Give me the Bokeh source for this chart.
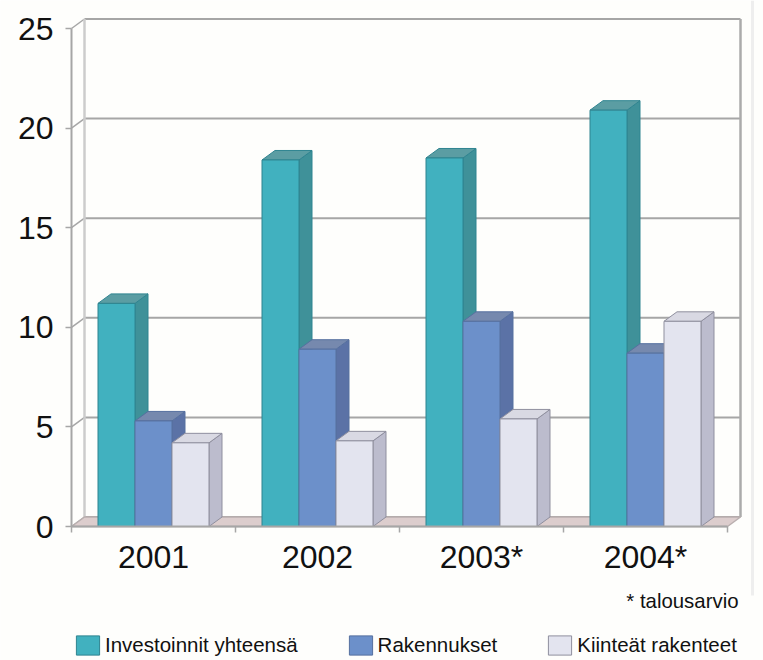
from bokeh.plotting import figure
from bokeh.embed import file_html
from bokeh.resources import INLINE
from bokeh.models import FixedTicker, Legend, LegendItem, Label

categories = ["2001", "2002", "2003*", "2004*"]
series_names = ["Investoinnit yhteensä", "Rakennukset", "Kiinteät rakenteet"]
investoinnit = [11.2, 18.4, 18.5, 20.9]
rakennukset = [5.3, 8.9, 10.3, 8.7]
kiinteat = [4.2, 4.3, 5.4, 10.3]
y_ticks = [0, 5, 10, 15, 20, 25]
footnote = "* talousarvio"

W, H = 763, 660
PX = 164.0      # pixels per category
PY = 19.92      # pixels per value unit
x0 = -71 / PX - 0.5
x1 = x0 + W / PX
y1 = 526 / PY
y0 = y1 - H / PY
DX = 13 / PX    # 3D depth
DY = 9.5 / PY
BW = 37 / PX
X_END = 3.5

p = figure(width=W, height=H, x_range=(x0, x1), y_range=(y0, y1),
           output_backend="svg", toolbar_location=None, min_border=0,
           background_fill_color="#FEFEFC", border_fill_color="#FEFEFC")
p.grid.visible = False
p.outline_line_color = None

GRID = "#A6A6A6"
# faint scan edge at the right
p.segment([(752 - 71) / PX - 0.5], [y1], [(752 - 71) / PX - 0.5], [(526 - 595) / PY],
          line_color="#EEEEEE", line_width=3)
# back wall
p.segment([-0.5 + DX] * len(y_ticks), [v + DY for v in y_ticks],
          [X_END + DX] * len(y_ticks), [v + DY for v in y_ticks],
          line_color=GRID, line_width=2)
p.segment([-0.5] * len(y_ticks), y_ticks, [-0.5 + DX] * len(y_ticks),
          [v + DY for v in y_ticks], line_color=GRID, line_width=1.5)
p.segment([-0.5 + DX], [DY], [-0.5 + DX], [25 + DY], line_color="#CCCCCC", line_width=2.5)
p.segment([X_END + DX], [DY], [X_END + DX], [25 + DY], line_color="#ABABAB", line_width=2.5)
# floor
p.patch([-0.5, -0.5 + DX, X_END + DX, X_END], [0, DY, DY, 0],
        fill_color="#DCCDCD", line_color="#B9AFAF", line_width=1.5)

styles = [
    ("#41B1BF", "#3F9199", "#5B9DA3", "#2F8490"),
    ("#6C90CA", "#5B72A6", "#7689AE", "#56709F"),
    ("#E3E4EF", "#BCBCCD", "#D9D9E3", "#8F8F9E"),
]
all_series = [investoinnit, rakennukset, kiinteat]
fronts = []
for i, vals in enumerate(all_series):
    front, side, top, edge = styles[i]
    lefts = [k - 1.5 * BW + i * BW for k in range(len(vals))]
    rights = [l + BW for l in lefts]
    p.patches([[r, r + DX, r + DX, r] for r in rights],
              [[0, DY, v + DY, v] for v in vals],
              fill_color=side, line_color=edge, line_width=1)
    p.patches([[l, l + DX, r + DX, r] for l, r in zip(lefts, rights)],
              [[v, v + DY, v + DY, v] for v in vals],
              fill_color=top, line_color=edge, line_width=1)
    fronts.append(p.vbar(x=[l + BW / 2 for l in lefts], width=BW, bottom=0, top=vals,
                         fill_color=front, line_color=edge, line_width=1))

xa = p.xaxis[0]
xa.fixed_location = 0
xa.bounds = (-0.5, X_END)
xa.ticker = FixedTicker(ticks=list(range(len(categories))),
                        minor_ticks=[k + 0.5 for k in range(-1, len(categories))])
xa.major_label_overrides = {k: c for k, c in enumerate(categories)}
xa.major_tick_line_color = None
xa.major_tick_out = 0
xa.major_tick_in = 0
xa.minor_tick_out = 6
xa.minor_tick_in = 0
xa.minor_tick_line_color = GRID
xa.minor_tick_line_width = 1.5
xa.axis_line_color = GRID
xa.axis_line_width = 2
xa.major_label_text_font = "Liberation Sans"
xa.major_label_text_font_size = "32px"
xa.major_label_text_color = "#111111"
xa.major_label_standoff = 6

ya = p.yaxis[0]
ya.fixed_location = -0.5
ya.bounds = (0, 25)
ya.ticker = FixedTicker(ticks=y_ticks)
ya.minor_tick_line_color = None
ya.major_tick_out = 6
ya.major_tick_in = 0
ya.major_tick_line_color = GRID
ya.major_tick_line_width = 1.5
ya.axis_line_color = GRID
ya.axis_line_width = 2
ya.major_label_text_font = "Liberation Sans"
ya.major_label_text_font_size = "32px"
ya.major_label_text_color = "#111111"
ya.major_label_standoff = 12

p.add_layout(Label(x=(738 - 71) / PX - 0.5, y=(526 - 600) / PY, text=footnote,
                   text_align="right", text_baseline="middle",
                   text_font="Liberation Sans", text_font_size="20.4px",
                   text_color="#111111"))

legend = Legend(items=[LegendItem(label=n, renderers=[r]) for n, r in zip(series_names, fronts)],
                location=(73, 3), orientation="horizontal",
                padding=0, margin=0, spacing=48, glyph_width=29, glyph_height=24,
                label_standoff=3, border_line_color=None, background_fill_alpha=0,
                label_text_font="Liberation Sans", label_text_font_size="20.5px",
                label_text_color="#111111")
p.add_layout(legend, "center")

open("out.html", "w").write(file_html(p, INLINE))
